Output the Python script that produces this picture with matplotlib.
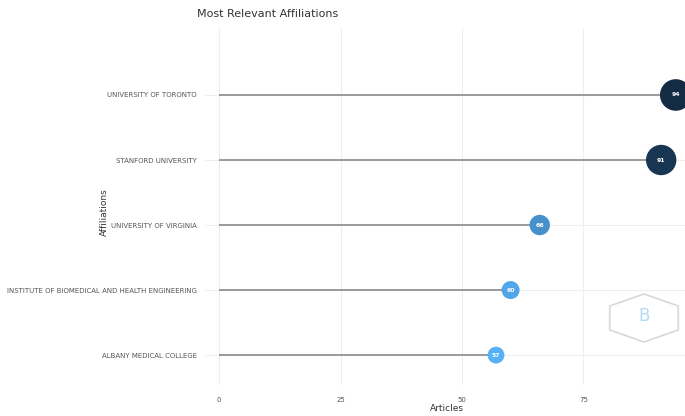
import numpy as np
import matplotlib
matplotlib.use('Agg')
import matplotlib.pyplot as plt
from matplotlib.colors import LinearSegmentedColormap
from matplotlib.patches import RegularPolygon

# 数据
affiliations = ['ALBANY MEDICAL COLLEGE',
                'INSTITUTE OF BIOMEDICAL AND HEALTH ENGINEERING',
                'UNIVERSITY OF VIRGINIA',
                'STANFORD UNIVERSITY',
                'UNIVERSITY OF TORONTO']
articles = [57, 60, 66, 91, 94]
x_ticks = [0, 25, 50, 75]

plt.rcParams['font.family'] = ['DejaVu Sans']

fig = plt.figure(figsize=(6.85, 4.16), dpi=100)
ax = fig.add_axes([205 / 685, 31 / 416, 480 / 685, 357 / 416])

vals = np.array(articles, dtype=float)
pos = np.arange(len(affiliations))

# 颜色和大小随数值变化
cmap = LinearSegmentedColormap.from_list('blues', ['#56B1F7', '#132B43'])
norm = (vals - vals.min()) / (vals.max() - vals.min())
colors = cmap(norm)
radius_px = -3 + 0.2 * vals
sizes = (2 * radius_px * 0.72) ** 2

ax.hlines(pos, 0, vals, color='#9a9a9a', linewidth=1.4, zorder=2)
ax.scatter(vals, pos, s=sizes, c=colors, zorder=3, clip_on=False, edgecolors='none')
for v, p in zip(articles, pos):
    ax.text(v, p, str(v), color='white', fontsize=4.4, fontweight='bold',
            ha='center', va='center', zorder=4)

ax.set_xlim(-2.9, 95.9)
ax.set_ylim(-0.46, 5.03)
ax.set_xticks(x_ticks)
ax.set_yticks(pos)
ax.set_yticklabels(affiliations)
ax.tick_params(axis='both', length=0, labelsize=5, labelcolor='#555555')
ax.tick_params(axis='x', pad=9)
ax.tick_params(axis='y', pad=6)
ax.grid(True, color='#eeeeee', linewidth=0.8, zorder=0)
ax.set_axisbelow(True)
for s in ax.spines.values():
    s.set_visible(False)

ax.set_xlabel('Articles', fontsize=6.5, color='#333333')
ax.set_ylabel('Affiliations', fontsize=6.5, color='#333333')
ax.xaxis.set_label_coords(0.504, -0.053)
ax.yaxis.set_label_coords(-0.2, 0.485)

fig.text(197 / 685, 1 - 14 / 416, 'Most Relevant Affiliations', fontsize=8,
         color='#333333', ha='left', va='center')

# 水印
hexagon = RegularPolygon((644 / 685, 1 - 318 / 416), numVertices=6,
                         radius=0.0577, orientation=0, transform=fig.transFigure,
                         facecolor='none', edgecolor='#d8d8d8', linewidth=1.2)
fig.patches.append(hexagon)
fig.text(644 / 685, 1 - 316 / 416, 'B', fontsize=12, color='#b5dcf2',
         ha='center', va='center')

fig.savefig('out.png', dpi=100)
